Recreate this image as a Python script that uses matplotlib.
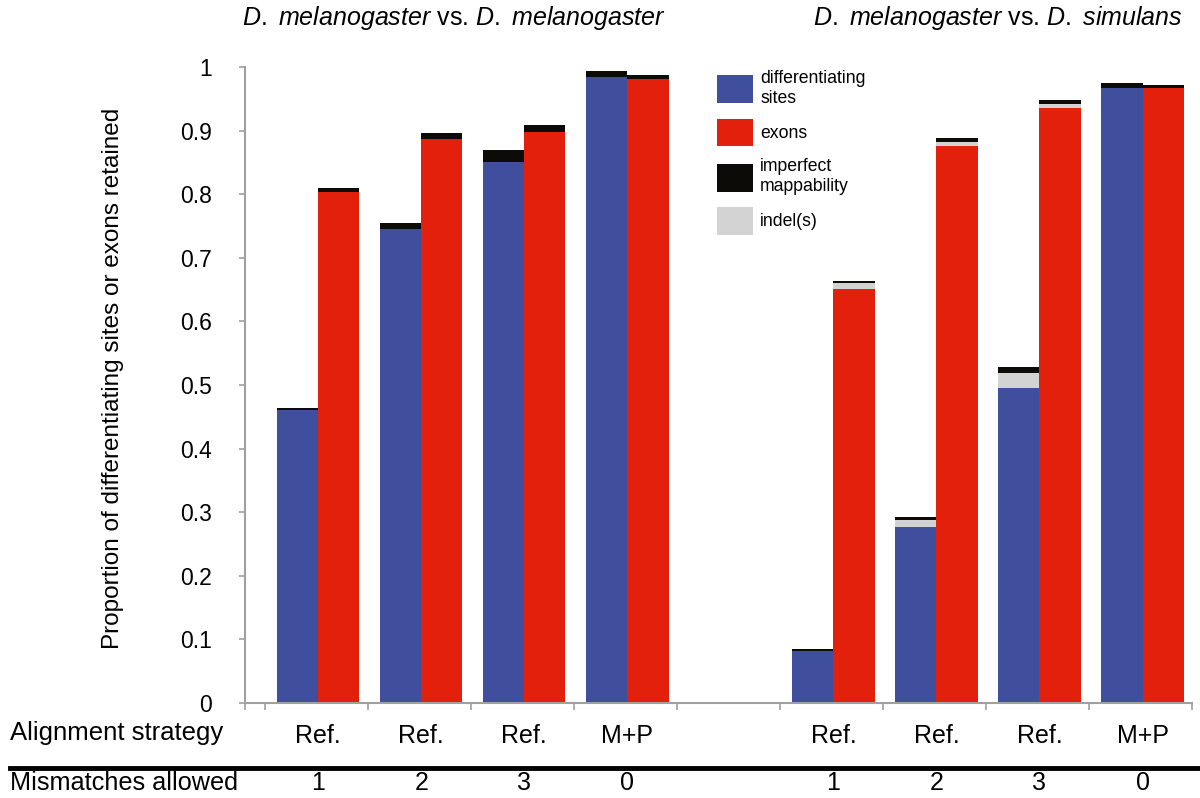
import numpy as np
import matplotlib
matplotlib.use('Agg')
import matplotlib.pyplot as plt
from matplotlib import transforms
from matplotlib.lines import Line2D

plt.rcParams['font.family'] = ['Liberation Sans', 'DejaVu Sans']
plt.rcParams['mathtext.fontset'] = 'custom'
plt.rcParams['mathtext.rm'] = 'Liberation Sans'
plt.rcParams['mathtext.it'] = 'Liberation Sans:italic'

# group positions (slot 4 is the empty gap between the two comparisons)
positions = [0, 1, 2, 3, 5, 6, 7, 8]
strategy = ['Ref.', 'Ref.', 'Ref.', 'M+P', 'Ref.', 'Ref.', 'Ref.', 'M+P']
mismatches = ['1', '2', '3', '0', '1', '2', '3', '0']

sites = [0.46, 0.745, 0.851, 0.985, 0.081, 0.276, 0.496, 0.967]
sites_indel = [0.0, 0.0, 0.0, 0.0, 0.0, 0.012, 0.023, 0.0]
sites_imperfect = [0.004, 0.010, 0.018, 0.009, 0.004, 0.004, 0.009, 0.008]
exons = [0.804, 0.887, 0.898, 0.981, 0.651, 0.876, 0.936, 0.967]
exons_indel = [0.0, 0.0, 0.0, 0.0, 0.009, 0.006, 0.006, 0.0]
exons_imperfect = [0.006, 0.009, 0.011, 0.006, 0.004, 0.006, 0.006, 0.005]

yticks = [0, 0.1, 0.2, 0.3, 0.4, 0.5, 0.6, 0.7, 0.8, 0.9, 1]
ytick_labels = ['0', '0.1', '0.2', '0.3', '0.4', '0.5', '0.6', '0.7', '0.8', '0.9', '1']

BLUE = '#3f4e9d'
RED = '#e2200b'
BLACK = '#0d0b07'
GRAY = '#d3d3d3'
AXIS = '#a0a0a0'

fig = plt.figure(figsize=(12, 7.98), dpi=100)
ax = fig.add_axes([245/1200, 95/798, 947/1200, 636/798])

x = np.array(positions, dtype=float)
w = 0.4
s = np.array(sites)
si = np.array(sites_indel)
e = np.array(exons)
ei = np.array(exons_indel)

b_sites = ax.bar(x - w/2, s, w, color=BLUE, linewidth=0)
b_indel = ax.bar(x - w/2, si, w, bottom=s, color=GRAY, linewidth=0)
b_imp = ax.bar(x - w/2, sites_imperfect, w, bottom=s + si, color=BLACK, linewidth=0)
b_exons = ax.bar(x + w/2, e, w, color=RED, linewidth=0)
ax.bar(x + w/2, ei, w, bottom=e, color=GRAY, linewidth=0)
ax.bar(x + w/2, exons_imperfect, w, bottom=e + ei, color=BLACK, linewidth=0)

ax.set_xlim(-0.71, 8.48)
ax.set_ylim(0, 1)
ax.set_yticks(yticks)
ax.set_yticklabels(ytick_labels, fontsize=16.5)
ax.tick_params(axis='y', direction='out', length=4, width=1.2, color=AXIS, pad=20)

ax.set_xticks(positions)
ax.set_xticklabels(strategy, fontsize=18)
ax.tick_params(axis='x', which='major', length=0, pad=15)
ax.set_xticks([-0.71] + [k - 0.52 for k in range(10)], minor=True)
ax.tick_params(axis='x', which='minor', direction='out', length=5, width=1.2, color=AXIS)

for side in ['top', 'right']:
    ax.spines[side].set_visible(False)
for side in ['left', 'bottom']:
    ax.spines[side].set_color(AXIS)
    ax.spines[side].set_linewidth(1.5)

ax.set_ylabel('Proportion of differentiating sites or exons retained', fontsize=17.5)
ax.yaxis.set_label_coords(-0.128, 0.51)

# row labels under the axis
trans = transforms.blended_transform_factory(ax.transData, fig.transFigure)
fig.text(10/1200, 1 - 733/798, 'Alignment strategy', fontsize=18.5, ha='left', va='center')
fig.text(10/1200, 1 - 783/798, 'Mismatches allowed', fontsize=18.2, ha='left', va='center')
for p, m in zip(positions, mismatches):
    ax.text(p, 1 - 783/798, m, transform=trans, fontsize=18, ha='center', va='center')
fig.add_artist(Line2D([10/1200, 1], [1 - 768/798] * 2, color='black', linewidth=3.5))

# comparison titles
fig.text(454/1200, 1 - 18/798, r'$\mathit{D.\ melanogaster}$ vs. $\mathit{D.\ melanogaster}$',
         fontsize=18, ha='center', va='center')
fig.text(998/1200, 1 - 18/798, r'$\mathit{D.\ melanogaster}$ vs. $\mathit{D.\ simulans}$',
         fontsize=18, ha='center', va='center')

ax.legend([b_sites, b_exons, b_imp, b_indel],
          ['differentiating\nsites', 'exons', 'imperfect\nmappability', 'indel(s)'],
          loc='upper left', bbox_to_anchor=(717/1200, 1 - 70/798), bbox_transform=fig.transFigure,
          frameon=False, fontsize=12.7, handlelength=2.05, handleheight=2.05,
          handletextpad=0.4, labelspacing=0.68, borderpad=0, borderaxespad=0)

fig.savefig('out.png', dpi=100)
